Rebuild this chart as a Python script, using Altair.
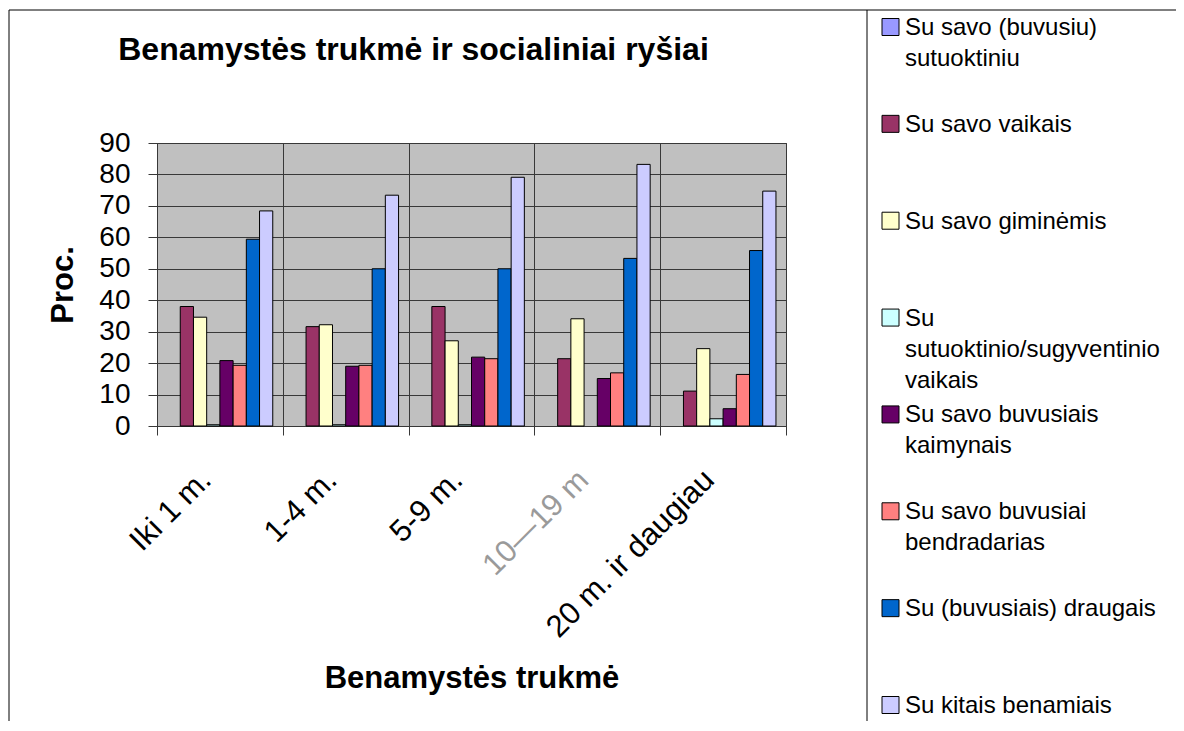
import altair as alt
import pandas as pd

# ---- data ----
categories = ["Iki 1 m.", "1-4 m.", "5-9 m.", "10—19 m", "20 m. ir daugiau"]
series = [
    "Su savo (buvusiu) sutuoktiniu",
    "Su savo vaikais",
    "Su savo giminėmis",
    "Su sutuoktinio/sugyventinio vaikais",
    "Su savo buvusiais kaimynais",
    "Su savo buvusiai bendradarias",
    "Su (buvusiais) draugais",
    "Su kitais benamiais",
]
legend_labels = [
    "Su savo (buvusiu)\nsutuoktiniu",
    "Su savo vaikais",
    "Su savo giminėmis",
    "Su\nsutuoktinio/sugyventinio\nvaikais",
    "Su savo buvusiais\nkaimynais",
    "Su savo buvusiai\nbendradarias",
    "Su (buvusiais) draugais",
    "Su kitais benamiais",
]
colors = ["#9999FF", "#993366", "#FFFFCC", "#CCFFFF", "#660066", "#FF8080", "#0066CC", "#CCCCFF"]

sutuoktiniu = [0.0, 0.0, 0.0, 0.0, 0.0]
vaikais = [38.0, 31.6, 38.0, 21.4, 11.1]
giminemis = [34.6, 32.2, 27.1, 34.1, 24.6]
sutuoktinio_vaikais = [0.4, 0.4, 0.4, 0.0, 2.3]
kaimynais = [20.8, 19.0, 21.9, 15.1, 5.5]
bendradarias = [19.3, 19.3, 21.4, 16.9, 16.4]
draugais = [59.4, 50.0, 50.0, 53.3, 55.8]
benamiais = [68.4, 73.4, 79.1, 83.2, 74.7]

y_ticks = [0, 10, 20, 30, 40, 50, 60, 70, 80, 90]

values = [sutuoktiniu, vaikais, giminemis, sutuoktinio_vaikais,
          kaimynais, bendradarias, draugais, benamiais]

rows = []
for s, vals in zip(series, values):
    for c, v in zip(categories, vals):
        rows.append({"category": c, "series": s, "value": v})
df = pd.DataFrame(rows)

leg_df = pd.DataFrame({"series": series, "label": legend_labels, "idx": list(range(len(series)))})
one = pd.DataFrame({"k": [0]})

W, H = 629, 283
FONT = "Liberation Sans"
GRID = "#383838"

color_enc = alt.Color("series:N", sort=series,
                      scale=alt.Scale(domain=series, range=colors), legend=None)

bars = alt.Chart(df).transform_filter("datum.value > 0").mark_bar(
    stroke="black", strokeWidth=1).encode(
    x=alt.X("category:N", sort=categories,
            scale=alt.Scale(domain=categories, paddingInner=0, paddingOuter=0),
            axis=alt.Axis(
                title="Benamystės trukmė", titleFontSize=31, titleFontWeight="bold",
                titleColor="black", titleX=W / 2, titleY=261, titleAlign="center",
                titleBaseline="alphabetic",
                labelAngle=315, labelAlign="right", labelBaseline="middle",
                labelFontSize=31, labelPadding=40, labelOffset=-14, labelLimit=400,
                labelColor={"expr": "datum.value === '10—19 m' ? '#9a9a9a' : 'black'"},
                tickBand="extent", tickSize=9, tickColor=GRID,
                grid=True, gridColor=GRID, gridOpacity=1, domainColor=GRID)),
    xOffset=alt.XOffset("series:N", sort=series,
                        scale=alt.Scale(domain=series, paddingInner=0, paddingOuter=0.76)),
    y=alt.Y("value:Q", scale=alt.Scale(domain=[0, 90], nice=False),
            axis=alt.Axis(
                title="Proc.", titleFontSize=31, titleFontWeight="bold", titleColor="black",
                titleAngle=270, titleX=-85, titleY=H / 2, titleAlign="center",
                titleBaseline="alphabetic",
                values=y_ticks, labelFontSize=28, labelPadding=18, labelColor="black",
                tickSize=9, tickColor=GRID, grid=True, gridColor=GRID, gridOpacity=1,
                domainColor=GRID)),
    color=color_enc,
)

leg_y = alt.Y("idx:Q", scale=alt.Scale(domain=[0, 7], range=[-116, 562]), axis=None)

leg_sym = alt.Chart(leg_df).mark_square(size=289, filled=True, opacity=1,
                                        stroke="black", strokeWidth=1).encode(
    x=alt.value(733.5), y=leg_y, color=color_enc)

leg_txt = alt.Chart(leg_df).mark_text(align="left", baseline="alphabetic", fontSize=24,
                                      lineBreak="\n", lineHeight=31, dy=8,
                                      color="black").encode(
    x=alt.value(748), y=leg_y, text="label:N")

border_top = alt.Chart(one).mark_rule(color="black", strokeWidth=1).encode(
    x=alt.value(-148), x2=alt.value(1040), y=alt.value(-133))
border_left = alt.Chart(one).mark_rule(color="black", strokeWidth=1).encode(
    x=alt.value(-148), y=alt.value(-133), y2=alt.value(600))
border_mid = alt.Chart(one).mark_rule(color="black", strokeWidth=1).encode(
    x=alt.value(710), y=alt.value(-133), y2=alt.value(600))

chart = alt.layer(
    bars, leg_sym, leg_txt, border_top, border_left, border_mid
).resolve_scale(y="independent").properties(
    width=W, height=H,
    title=alt.TitleParams("Benamystės trukmė  ir socialiniai ryšiai", fontSize=32,
                          fontWeight="bold", anchor="middle", frame="group", dx=-58,
                          baseline="alphabetic", offset=-82, color="black"),
    autosize=alt.AutoSizeParams(type="none"),
    padding={"left": 149, "top": 135, "right": 390, "bottom": 295},
).configure(font=FONT).configure_view(fill="#C0C0C0", stroke=GRID, strokeWidth=1)

chart.save("out.html", embed_options={"renderer": "svg", "actions": False})
